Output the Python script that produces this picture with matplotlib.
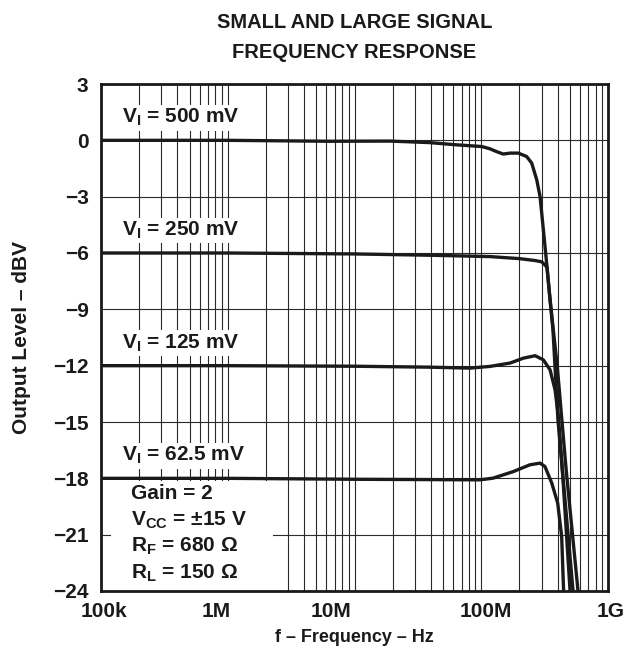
import numpy as np
import matplotlib
matplotlib.use("Agg")
import matplotlib.pyplot as plt
from matplotlib.ticker import FixedLocator, NullFormatter
from matplotlib.transforms import ScaledTranslation
from matplotlib.patches import Rectangle

plt.rcParams['font.family'] = ['Liberation Sans', 'DejaVu Sans']
plt.rcParams['font.weight'] = 'bold'
plt.rcParams['mathtext.fontset'] = 'custom'
plt.rcParams['mathtext.rm'] = 'Liberation Sans:bold'
plt.rcParams['mathtext.bf'] = 'Liberation Sans:bold'
plt.rcParams['mathtext.it'] = 'Liberation Sans:bold'

# Measured output level (dBV) versus frequency (Hz) for each input amplitude
f_500 = [1e5, 1e6, 6.4e6, 19e6, 39e6, 64e6, 101e6, 117e6, 132e6, 149e6, 169e6,
         196e6, 228e6, 250e6, 274e6, 291e6, 309e6, 328e6, 368e6, 403e6, 458e6, 530e6]
db_500 = [0.0, 0.0, -0.05, -0.04, -0.12, -0.24, -0.33, -0.45, -0.6, -0.73, -0.68,
          -0.68, -0.86, -1.21, -2.1, -2.99, -4.76, -6.54, -10.1, -14.9, -19.15, -24.0]

f_250 = [1e5, 1e6, 10e6, 40e6, 117e6, 200e6, 265e6, 300e6, 330e6, 349e6, 398e6, 467e6, 580e6]
db_250 = [-6.0, -6.0, -6.05, -6.12, -6.19, -6.3, -6.4, -6.47, -6.75, -8.5, -12.05, -17.5, -24.0]

f_125 = [1e5, 1e6, 10e6, 39e6, 81.5e6, 117e6, 169e6, 215e6, 266e6, 309e6, 349e6,
         382e6, 406e6, 442e6, 502e6]
db_125 = [-12.0, -12.0, -12.03, -12.08, -12.13, -12.04, -11.86, -11.6, -11.47, -11.69,
          -12.22, -13.28, -14.7, -18.1, -24.0]

f_62 = [1e5, 1e6, 10e6, 97.8e6, 124e6, 179e6, 242e6, 291e6, 318e6, 360e6, 401e6, 431e6, 447e6]
db_62 = [-18.0, -18.0, -18.05, -18.08, -17.99, -17.64, -17.28, -17.19, -17.37, -18.25,
         -19.32, -21.1, -24.1]

curve_labels = ['500 mV', '250 mV', '125 mV', '62.5 mV']
curve_levels = [0, -6, -12, -18]

x_ticks = [1e5, 1e6, 1e7, 1e8, 1e9]
x_ticklabels = ['100k', '1M', '10M', '100M', '1G']
y_ticks = [3, 0, -3, -6, -9, -12, -15, -18, -21, -24]
y_ticklabels = ['3', '0', '\u22123', '\u22126', '\u22129', '\u221212', '\u221215',
                '\u221218', '\u221221', '\u221224']

conditions = ['Gain = 2',
              '$\\mathbf{V_{CC}}$ = \u00b115 V',
              '$\\mathbf{R_F}$ = 680 \u03a9',
              '$\\mathbf{R_L}$ = 150 \u03a9']

fig = plt.figure(figsize=(6.39, 6.56), dpi=100)
ax = fig.add_axes([101 / 639, 65 / 656, 507 / 639, 507 / 656])

ax.set_xscale('log')
ax.set_xlim(1e5, 1e9)
ax.set_ylim(-24, 3)

# grid: every 1..9 per decade, every 3 dB
minor = [m * 10 ** d for d in range(5, 9) for m in range(2, 10)]
ax.xaxis.set_major_locator(FixedLocator(x_ticks))
ax.xaxis.set_minor_locator(FixedLocator(minor))
ax.xaxis.set_minor_formatter(NullFormatter())
ax.set_xticklabels(x_ticklabels)
ax.set_yticks(y_ticks)
ax.set_yticklabels(y_ticklabels)
ax.set_axisbelow(True)
ax.grid(which='both', axis='x', color='#2a2a2a', lw=0.8)
ax.grid(which='major', axis='y', color='#2a2a2a', lw=0.8)
ax.tick_params(which='both', length=0, labelsize=15, colors='#1a1a1a')
ax.tick_params(axis='y', pad=9)
ax.tick_params(axis='x', pad=8)
for sp in ax.spines.values():
    sp.set_linewidth(2.0)
    sp.set_color('#1a1a1a')

# per-label horizontal nudges (pixels)
nudges = [3, -12, -23, 5, 3]
for lab, dx in zip(ax.get_xticklabels(), nudges):
    lab.set_transform(lab.get_transform() + ScaledTranslation(dx / 100, 0, fig.dpi_scale_trans))

# white panel behind the test conditions
ax.add_patch(Rectangle((1.2e5, -24), 2.27e6 - 1.2e5, 5.85, facecolor='white',
                       edgecolor='none', zorder=1))

for f, db in [(f_500, db_500), (f_250, db_250), (f_125, db_125), (f_62, db_62)]:
    ax.plot(f, db, color='#1a1a1a', lw=2.4, zorder=2, solid_joinstyle='round')

for lab, lvl in zip(curve_labels, curve_levels):
    ax.text(1.46e5, lvl + 1.2, '$\\mathbf{V_I}$ = ' + lab, fontsize=15, fontweight='bold',
            ha='left', va='center', zorder=3, color='#1a1a1a',
            bbox=dict(boxstyle='square,pad=0.1', facecolor='white', edgecolor='none'))

for i, txt in enumerate(conditions):
    ax.text(1.72e5, -18.8 - 1.42 * i, txt, fontsize=15, fontweight='bold',
            ha='left', va='center', zorder=3, color='#1a1a1a')

ax.set_xlabel('f \u2013 Frequency \u2013 Hz', fontsize=13, fontweight='bold', color='#1a1a1a')
ax.set_ylabel('Output Level \u2013 dBV', fontsize=15, fontweight='bold', color='#1a1a1a')
ax.xaxis.set_label_coords((354 - 101) / 507, -(638 - 591) / 507)
ax.xaxis.label.set_va('center')
ax.yaxis.set_label_coords((22 - 101) / 507, 0.5)
ax.yaxis.label.set_va('center')

fig.text(354.5 / 639, 1 - 22 / 656, 'SMALL AND LARGE SIGNAL', ha='center', va='center',
         fontsize=14.5, fontweight='bold', color='#1a1a1a')
fig.text(354.5 / 639, 1 - 52 / 656, 'FREQUENCY RESPONSE', ha='center', va='center',
         fontsize=14.5, fontweight='bold', color='#1a1a1a')

fig.savefig('out.png', dpi=100, facecolor='white')
